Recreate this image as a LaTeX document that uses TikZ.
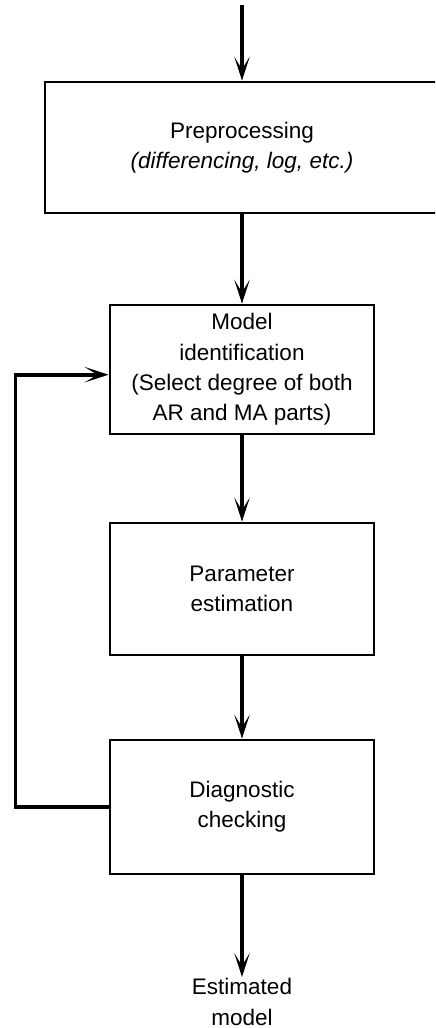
\documentclass[tikz,border=0pt]{standalone}
\usepackage{fontspec}
\setmainfont{Liberation Sans}
\usetikzlibrary{arrows.meta}

\begin{document}
\begin{tikzpicture}[x=0.025cm, y=-0.025cm,
  box/.style={draw, line width=2pt, minimum width=6.6cm, minimum height=3.3cm, align=center, font=\fontsize{16}{21.5}\selectfont},
  flow/.style={line width=2.6pt, -{Stealth[length=17pt 0 0, width=11pt 0 0, inset=9pt 0]}}]
\clip (0,0) rectangle (435,1028);
\coordinate (in) at (242,5);
\node [box, minimum width=9.85cm, minimum height=3.275cm] (pre) at (242,147.5) {Preprocessing\\\textit{(differencing, log, etc.)}};
\node [box, minimum height=3.225cm] (model) at (242,369.5) {Model\\identification\\(Select degree of both\\AR and MA parts)};
\node [box] (param) at (242,589) {Parameter\\estimation};
\node [box, minimum height=3.35cm] (diag) at (242,807) {Diagnostic\\checking};
\node [align=center, font=\fontsize{16}{21.5}\selectfont, inner sep=1pt] (out) at (242,1002) {Estimated\\model};
\draw [flow] (in) -- (pre.north);
\draw [flow] (pre.south) -- (model.north);
\draw [flow] (model.south) -- (param.north);
\draw [flow] (param.south) -- (diag.north);
\draw [flow] (diag.south) -- (out.north);
% loop back from checking to identification
\draw [flow] (diag.west) -- ++(-93,0) |- ([yshift=-0.13cm]model.west);
\end{tikzpicture}
\end{document}
